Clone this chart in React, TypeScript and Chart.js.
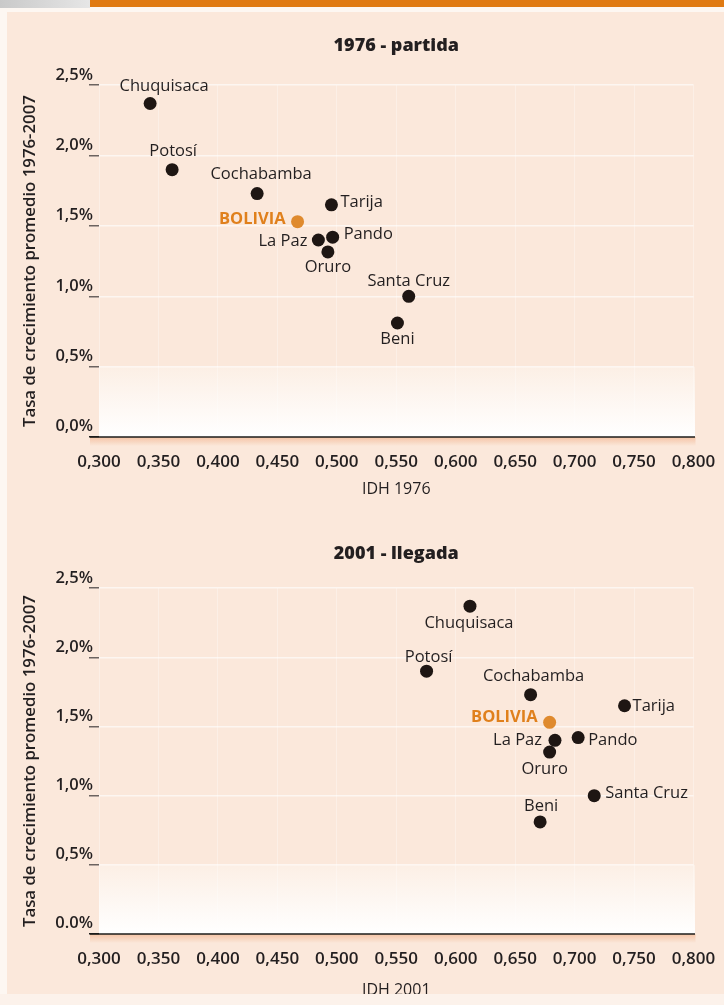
import React, { useEffect, useRef } from 'react';
import { Chart, registerables } from 'chart.js';

Chart.register(...registerables);

// ---------- data ----------
const provinces = ['Chuquisaca', 'Potosí', 'Cochabamba', 'Tarija', 'BOLIVIA', 'La Paz', 'Pando', 'Oruro', 'Santa Cruz', 'Beni'];
const growthRate = [2.37, 1.9, 1.73, 1.65, 1.53, 1.4, 1.42, 1.315, 1.0, 0.81];
const idh1976 = [0.343, 0.3615, 0.433, 0.4955, 0.467, 0.4845, 0.4965, 0.4925, 0.5605, 0.551];
const idh2001 = [0.612, 0.5755, 0.663, 0.742, 0.679, 0.6835, 0.703, 0.679, 0.7165, 0.671];

const xTickValues = [0.3, 0.35, 0.4, 0.45, 0.5, 0.55, 0.6, 0.65, 0.7, 0.75, 0.8];
const xTickLabels = ['0,300', '0,350', '0,400', '0,450', '0,500', '0,550', '0,600', '0,650', '0,700', '0,750', '0,800'];
const yTickValues = [0, 0.5, 1, 1.5, 2, 2.5];
const yTickLabelsTop = ['0,0%', '0,5%', '1,0%', '1,5%', '2,0%', '2,5%'];
const yTickLabelsBottom = ['0.0%', '0,5%', '1,0%', '1,5%', '2,0%', '2,5%'];

const titleTop = '1976 - partida';
const titleBottom = '2001 - llegada';
const xTitleTop = 'IDH 1976';
const xTitleBottom = 'IDH 2001';
const yTitle = 'Tasa de crecimiento promedio 1976-2007';

// ---------- label placement (layout, not data) ----------
type Place = { align: CanvasTextAlign; dx: number; dy: number };
const placeTop: Place[] = [
  { align: 'center', dx: 14, dy: -17 },
  { align: 'center', dx: 1, dy: -18 },
  { align: 'center', dx: 4, dy: -19 },
  { align: 'left', dx: 9, dy: -3 },
  { align: 'right', dx: -12, dy: -2 },
  { align: 'right', dx: -11, dy: 1 },
  { align: 'left', dx: 11, dy: -3 },
  { align: 'center', dx: 0, dy: 15 },
  { align: 'center', dx: 0, dy: -15 },
  { align: 'center', dx: 0, dy: 16 },
];
const placeBottom: Place[] = [
  { align: 'center', dx: -1, dy: 17 },
  { align: 'center', dx: 2, dy: -14 },
  { align: 'center', dx: 3, dy: -18 },
  { align: 'left', dx: 8, dy: 1 },
  { align: 'right', dx: -12, dy: -5 },
  { align: 'right', dx: -13, dy: 0 },
  { align: 'left', dx: 10, dy: 3 },
  { align: 'center', dx: -5, dy: 17 },
  { align: 'left', dx: 11, dy: -2 },
  { align: 'center', dx: 1, dy: -16 },
];

const FONT = "'Open Sans', 'DejaVu Sans', sans-serif";
const DARK = '#231f20';
const ORANGE = '#e0801c';
const PEACH = '#fbe8db';

const decorPlugin = {
  id: 'decor',
  beforeDraw(chart: any) {
    const { ctx, chartArea, scales } = chart;
    const y = scales.y;
    const top = y.getPixelForValue(0.5);
    const bot = y.getPixelForValue(0);
    ctx.save();
    const g = ctx.createLinearGradient(0, top, 0, bot);
    g.addColorStop(0, '#fcefe5');
    g.addColorStop(1, '#ffffff');
    ctx.fillStyle = g;
    ctx.fillRect(chartArea.left, top, chartArea.right - chartArea.left + 1.5, bot - top);
    ctx.restore();
  },
  beforeDatasetsDraw(chart: any) {
    const { ctx, chartArea, scales } = chart;
    const y0 = scales.y.getPixelForValue(0);
    ctx.save();
    const g = ctx.createLinearGradient(0, y0, 0, y0 + 9);
    g.addColorStop(0, 'rgba(238,150,100,0.45)');
    g.addColorStop(1, 'rgba(238,150,100,0)');
    ctx.fillStyle = g;
    ctx.fillRect(chartArea.left - 9, y0, chartArea.right - chartArea.left + 11, 9);
    ctx.beginPath();
    ctx.moveTo(chartArea.left - 9, y0);
    ctx.lineTo(chartArea.right + 1.5, y0);
    ctx.strokeStyle = '#1d1d1b';
    ctx.lineWidth = 1.6;
    ctx.stroke();
    ctx.restore();
  },
};

const labelPlugin = {
  id: 'pointLabels',
  afterDatasetsDraw(chart: any, _args: any, opts: any) {
    const meta = chart.getDatasetMeta(0);
    const ctx = chart.ctx;
    ctx.save();
    ctx.textBaseline = 'middle';
    meta.data.forEach((pt: any, i: number) => {
      const p: Place = opts.placements[i];
      const isBol = provinces[i] === 'BOLIVIA';
      ctx.font = (isBol ? '700 ' : '500 ') + '16.5px ' + FONT;
      ctx.fillStyle = isBol ? ORANGE : DARK;
      ctx.textAlign = p.align;
      ctx.fillText(provinces[i], pt.x + p.dx, pt.y + p.dy);
    });
    ctx.restore();
  },
};

function makeConfig(opts: {
  idh: number[];
  title: string;
  xTitle: string;
  yLabels: string[];
  placements: Place[];
  titlePad: { top: number; bottom: number };
  xHeight: number;
  xTitlePadBottom: number;
  xTickPad: number;
}): any {
  return {
    type: 'scatter',
    data: {
      datasets: [
        {
          data: opts.idh.map((x, i) => ({ x, y: growthRate[i] })),
          backgroundColor: provinces.map((p) => (p === 'BOLIVIA' ? '#df8a2e' : '#1e1613')),
          borderWidth: 0,
          pointRadius: 6.5,
          pointHoverRadius: 6.5,
        },
      ],
    },
    options: {
      animation: false,
      responsive: false,
      devicePixelRatio: 1,
      layout: { padding: { left: 0, right: 30.5, top: 0, bottom: 0 } },
      plugins: {
        legend: { display: false },
        tooltip: { enabled: false },
        title: {
          display: true,
          text: opts.title,
          fullSize: false,
          color: DARK,
          font: { family: FONT, size: 18, weight: '800', lineHeight: 1.2 },
          padding: opts.titlePad,
        },
        pointLabels: { placements: opts.placements },
      },
      scales: {
        x: {
          type: 'linear',
          min: 0.3,
          max: 0.8,
          afterBuildTicks: (axis: any) => {
            axis.ticks = xTickValues.map((v) => ({ value: v }));
          },
          afterFit: (s: any) => {
            s.height = opts.xHeight;
            s.paddingLeft = 0;
            s.paddingRight = 0;
          },
          ticks: {
            callback: (_v: any, i: number) => xTickLabels[i],
            color: DARK,
            font: { family: FONT, size: 17, weight: '600', lineHeight: 1.2 },
            padding: opts.xTickPad,
            maxRotation: 0,
            autoSkip: false,
          },
          grid: { color: 'rgba(255,255,255,0.3)', lineWidth: 1, drawTicks: false },
          border: { display: false },
          title: {
            display: true,
            text: opts.xTitle,
            color: DARK,
            font: { family: FONT, size: 16, weight: '500', lineHeight: 1.2 },
            padding: { top: 0, bottom: opts.xTitlePadBottom },
          },
        },
        y: {
          type: 'linear',
          min: 0,
          max: 2.5,
          afterBuildTicks: (axis: any) => {
            axis.ticks = yTickValues.map((v) => ({ value: v }));
          },
          afterFit: (s: any) => {
            s.width = 99;
          },
          ticks: {
            callback: (_v: any, i: number) => [opts.yLabels[i], ''],
            color: DARK,
            font: { family: FONT, size: 16.5, weight: '600', lineHeight: 1.25 },
            padding: -4,
            autoSkip: false,
          },
          grid: {
            color: (c: any) => (c.tick && c.tick.value === 0 ? 'rgba(0,0,0,0)' : 'rgba(255,255,255,0.6)'),
            tickColor: (c: any) => (c.tick && c.tick.value === 0 ? '#1d1d1b' : '#6b6360'),
            lineWidth: 1.5,
            drawTicks: true,
            tickLength: 10,
          },
          border: { display: false },
          title: {
            display: true,
            text: yTitle,
            color: DARK,
            font: { family: FONT, size: 16.8, weight: '600', lineHeight: 1.2 },
            padding: { top: 20, bottom: 0 },
          },
        },
      },
    },
    plugins: [decorPlugin, labelPlugin],
  };
}

function ChartCanvas(props: { config: any; top: number; height: number }) {
  const ref = useRef<HTMLCanvasElement | null>(null);
  useEffect(() => {
    if (!ref.current) return;
    const chart = new Chart(ref.current, props.config);
    return () => chart.destroy();
  }, []);
  return (
    <canvas
      ref={ref}
      width={724}
      height={props.height}
      style={{ position: 'absolute', left: 0, top: props.top, width: 724, height: props.height }}
    />
  );
}

export default function App() {
  const topCfg = makeConfig({
    idh: idh1976,
    title: titleTop,
    xTitle: xTitleTop,
    yLabels: yTickLabelsTop,
    placements: placeTop,
    titlePad: { top: 34.8, bottom: 28.8 },
    xHeight: 68,
    xTitlePadBottom: 6.4,
    xTickPad: 15,
  });
  const bottomCfg = makeConfig({
    idh: idh2001,
    title: titleBottom,
    xTitle: xTitleBottom,
    yLabels: yTickLabelsBottom,
    placements: placeBottom,
    titlePad: { top: 37.8, bottom: 23.8 },
    xHeight: 71,
    xTitlePadBottom: 5.4,
    xTickPad: 15.4,
  });
  return (
    <div
      style={{
        position: 'absolute',
        left: 0,
        top: 0,
        width: 724,
        height: 1005,
        overflow: 'hidden',
        background: PEACH,
      }}
    >
      <div style={{ position: 'absolute', left: 0, top: 0, width: 7, height: 1005, background: '#fdf7f2' }} />
      <div style={{ position: 'absolute', left: 0, top: 0, width: 724, height: 12, background: '#fdf7f2' }} />
      <div
        style={{
          position: 'absolute',
          left: 0,
          top: 0,
          width: 90,
          height: 8,
          background: 'linear-gradient(to right, #c9c9c9, #e6e6e6)',
        }}
      />
      <div style={{ position: 'absolute', left: 90, top: 0, width: 634, height: 7, background: '#e07a12' }} />
      <ChartCanvas config={topCfg} top={0} height={505} />
      <ChartCanvas config={bottomCfg} top={505} height={500} />
      <div style={{ position: 'absolute', left: 0, top: 994, width: 724, height: 11, background: '#fcf2eb' }} />
    </div>
  );
}
